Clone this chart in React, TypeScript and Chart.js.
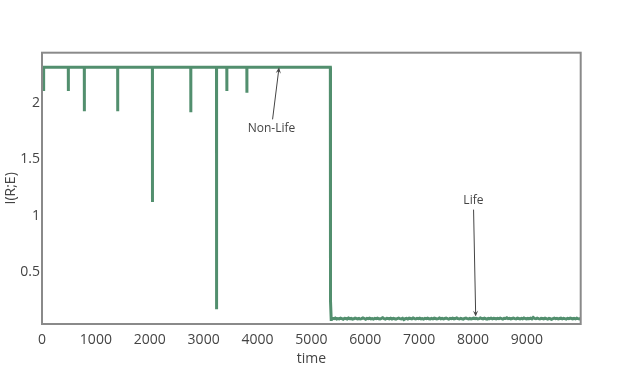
import React, { useEffect, useRef } from 'react';
import { Chart, registerables } from 'chart.js';

Chart.register(...registerables);

// ---- data ----
const plateauLevel = 2.32;
const spikeTimes = [30, 489, 786, 1405, 2050, 2762, 3240, 3431, 3803];
const spikeMinima = [2.11, 2.11, 1.93, 1.93, 1.12, 1.92, 0.165, 2.11, 2.095];
const dropTimes = [5352, 5355, 5368];
const dropValues = [2.32, 0.24, 0.075];
const lifeStartTime = 5370;
const lifeEndTime = 9999;
const lifeValues = [
  0.078, 0.084, 0.081, 0.087, 0.079, 0.083, 0.08, 0.086, 0.082, 0.077,
  0.085, 0.083, 0.079, 0.088, 0.082, 0.084, 0.078, 0.081, 0.087, 0.083,
  0.08, 0.085, 0.079, 0.082, 0.089, 0.083, 0.077, 0.084, 0.081, 0.086,
  0.08, 0.083, 0.078, 0.085, 0.082, 0.087, 0.081, 0.079, 0.084, 0.09,
  0.082, 0.078, 0.085, 0.083, 0.08, 0.086, 0.079, 0.084, 0.081, 0.077,
  0.083, 0.087, 0.082, 0.08, 0.085, 0.073, 0.081, 0.084, 0.079, 0.086,
  0.083, 0.08, 0.088, 0.082, 0.079, 0.084, 0.081, 0.086, 0.08, 0.083,
  0.078, 0.085, 0.082, 0.087, 0.081, 0.079, 0.084, 0.08, 0.086, 0.083,
  0.079, 0.082, 0.088, 0.081, 0.085, 0.079, 0.083, 0.087, 0.082, 0.078,
  0.084, 0.081, 0.086, 0.08, 0.083, 0.089, 0.082, 0.079, 0.085, 0.081,
  0.078, 0.084, 0.087, 0.082, 0.08, 0.085, 0.079, 0.083, 0.086, 0.081,
  0.084, 0.079, 0.082, 0.088, 0.083, 0.08, 0.086, 0.081, 0.078, 0.084,
  0.082, 0.087, 0.08, 0.085, 0.083, 0.079, 0.084, 0.081, 0.086, 0.082,
  0.078, 0.085, 0.083, 0.089, 0.081, 0.084, 0.079, 0.083, 0.087, 0.082,
  0.08, 0.086, 0.083, 0.079, 0.085, 0.081, 0.088, 0.083, 0.079, 0.084,
  0.082, 0.086, 0.08, 0.092, 0.084, 0.081, 0.087, 0.082, 0.079, 0.085,
  0.083, 0.08, 0.086, 0.082, 0.078, 0.084, 0.081, 0.076, 0.083, 0.087,
  0.081, 0.085, 0.079, 0.083, 0.086, 0.08, 0.084, 0.082, 0.078, 0.085,
  0.081, 0.087, 0.083, 0.079, 0.084, 0.08, 0.086, 0.082, 0.079, 0.084,
];
const xTicks = [0, 1000, 2000, 3000, 4000, 5000, 6000, 7000, 8000, 9000];
const yTicks = [0.5, 1, 1.5, 2];
const xRange = [0, 9999];
const yRange = [0.0342, 2.4507];
const annotationLabels = ['Non-Life', 'Life'];
const annotationX = [4400, 8050];
const annotationY = [2.32, 0.1];

// ---- styles ----
const lineColor = 'rgb(82,143,110)';
const textColor = '#444';
const annotationOffsets = [
  [-7.6, 61],
  [-2.3, -116],
];

function buildPoints() {
  const pts: { x: number; y: number }[] = [{ x: 0, y: plateauLevel }];
  spikeTimes.forEach((t, i) => {
    pts.push({ x: t - 1, y: plateauLevel });
    pts.push({ x: t, y: spikeMinima[i] });
    pts.push({ x: t + 1, y: plateauLevel });
  });
  dropTimes.forEach((t, i) => pts.push({ x: t, y: dropValues[i] }));
  const n = lifeValues.length;
  lifeValues.forEach((v, i) => {
    pts.push({ x: lifeStartTime + ((lifeEndTime - lifeStartTime) * i) / (n - 1), y: v });
  });
  return pts;
}

const framePlugin = {
  id: 'frameAndNotes',
  afterDatasetsDraw(chart: any) {
    const { ctx, chartArea } = chart;
    const xs = chart.scales.x;
    const ys = chart.scales.y;
    ctx.save();
    ctx.font = '12px "Open Sans"';
    ctx.fillStyle = textColor;
    ctx.strokeStyle = textColor;
    ctx.textAlign = 'center';
    ctx.textBaseline = 'middle';
    annotationLabels.forEach((label, i) => {
      const tx = xs.getPixelForValue(annotationX[i]);
      const ty = ys.getPixelForValue(annotationY[i]);
      const cx = tx + annotationOffsets[i][0];
      const cy = ty + annotationOffsets[i][1];
      ctx.fillText(label, cx, cy);
      const dx = tx - cx;
      const dy = ty - cy;
      const halfH = 9;
      const s = halfH / Math.abs(dy);
      const sx = cx + dx * s;
      const sy = cy + dy * s;
      const len = Math.hypot(dx, dy);
      const ux = dx / len;
      const uy = dy / len;
      const headLen = 6;
      const headW = 2.6;
      ctx.lineWidth = 1;
      ctx.beginPath();
      ctx.moveTo(sx, sy);
      ctx.lineTo(tx - ux * headLen * 0.6, ty - uy * headLen * 0.6);
      ctx.stroke();
      ctx.beginPath();
      ctx.moveTo(tx, ty);
      ctx.lineTo(tx - ux * headLen - uy * headW, ty - uy * headLen + ux * headW);
      ctx.lineTo(tx - ux * headLen * 0.6, ty - uy * headLen * 0.6);
      ctx.lineTo(tx - ux * headLen + uy * headW, ty - uy * headLen - ux * headW);
      ctx.closePath();
      ctx.fill();
    });
    ctx.strokeStyle = '#8a8a8a';
    ctx.lineWidth = 2;
    ctx.strokeRect(chartArea.left, chartArea.top, chartArea.right - chartArea.left, chartArea.bottom - chartArea.top);
    ctx.restore();
  },
};

export default function App() {
  const ref = useRef<HTMLCanvasElement | null>(null);
  useEffect(() => {
    document.body.style.margin = '0';
    document.body.style.overflow = 'hidden';
    const canvas = ref.current;
    if (!canvas) return;
    const chart = new Chart(canvas, {
      type: 'line',
      data: {
        datasets: [
          {
            data: buildPoints(),
            borderColor: lineColor,
            backgroundColor: lineColor,
            borderWidth: 3,
            pointRadius: 0,
            tension: 0,
            borderJoinStyle: 'miter',
            fill: false,
          },
        ],
      },
      options: {
        animation: false,
        responsive: false,
        events: [],
        layout: { padding: { top: 52.7, right: 42.3, left: 0, bottom: 0 } },
        plugins: { legend: { display: false }, tooltip: { enabled: false } },
        scales: {
          x: {
            type: 'linear',
            min: xRange[0],
            max: xRange[1],
            grid: { display: false, drawTicks: false },
            border: { display: false },
            afterFit: (s: any) => {
              s.height = 43;
            },
            afterBuildTicks: (s: any) => {
              s.ticks = xTicks.map((v) => ({ value: v }));
            },
            ticks: {
              padding: 7.5,
              maxRotation: 0,
              autoSkip: false,
              color: textColor,
              font: { family: '"Open Sans"', size: 14 },
              callback: (v: any) => String(v),
            },
            title: {
              display: true,
              text: 'time',
              color: textColor,
              font: { family: '"Open Sans"', size: 14 },
              padding: { top: 0, bottom: 0 },
            },
          },
          y: {
            type: 'linear',
            min: yRange[0],
            max: yRange[1],
            grid: { display: false, drawTicks: false },
            border: { display: false },
            afterFit: (s: any) => {
              s.width = 42;
            },
            afterBuildTicks: (s: any) => {
              s.ticks = yTicks.map((v) => ({ value: v }));
            },
            ticks: {
              padding: 2,
              autoSkip: false,
              color: textColor,
              font: { family: '"Open Sans"', size: 14 },
              callback: (v: any) => String(v),
            },
            title: {
              display: true,
              text: 'I(R;E)',
              color: textColor,
              font: { family: '"Open Sans"', size: 14 },
              padding: { top: 2.6, bottom: 0 },
            },
          },
        },
      },
      plugins: [framePlugin],
    });
    return () => chart.destroy();
  }, []);
  return (
    <div style={{ width: 623, height: 367, background: '#fff' }}>
      <canvas ref={ref} width={623} height={367} style={{ display: 'block' }} />
    </div>
  );
}
